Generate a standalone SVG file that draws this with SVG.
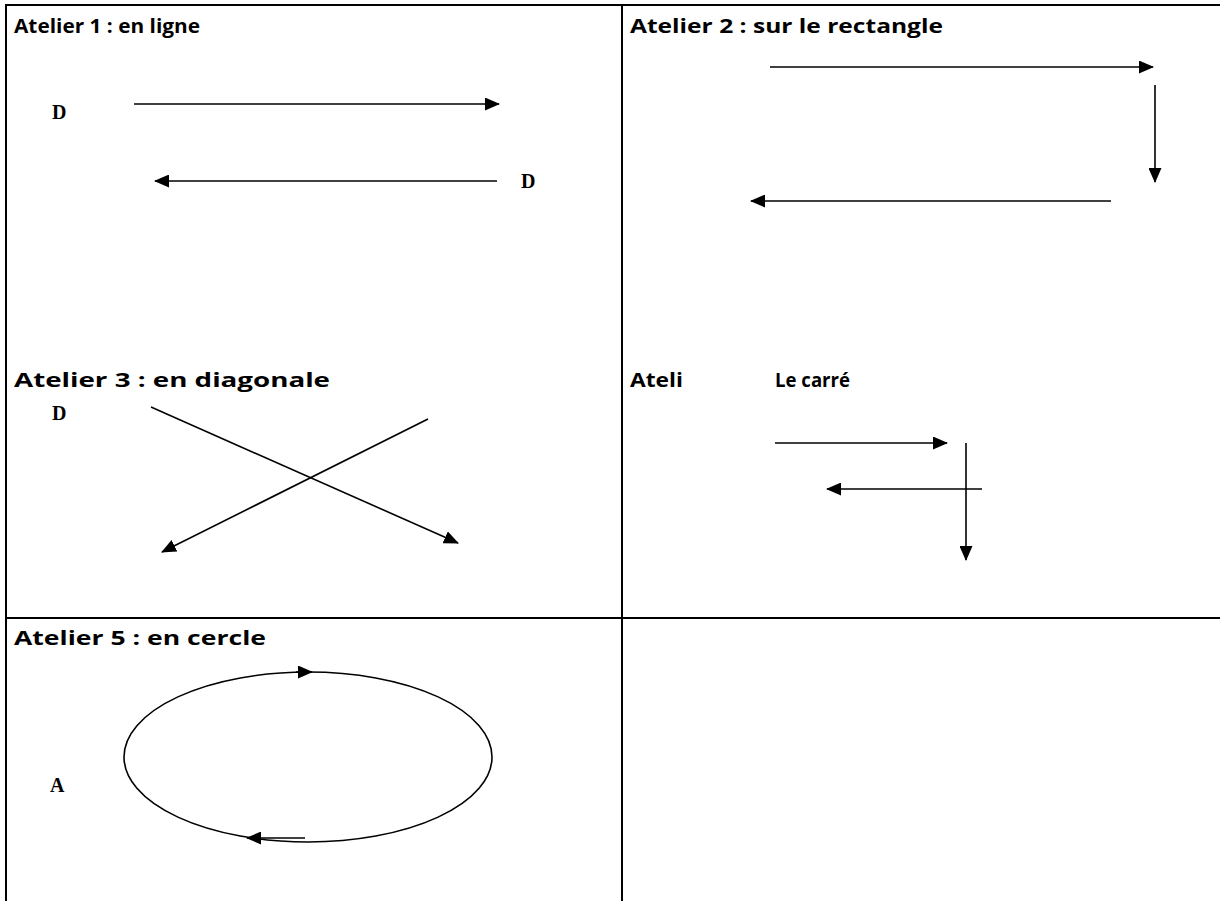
<svg xmlns="http://www.w3.org/2000/svg" width="1220" height="901" viewBox="0 0 1220 901">
<style>
.t{font-family:"Open Sans","Liberation Sans",Arial,sans-serif;font-weight:bold;font-size:20px;fill:#000}
.l{font-family:"Liberation Serif","Times New Roman",serif;font-weight:bold;font-size:20px;fill:#000}
.a{stroke:#000;stroke-width:1.6;fill:none;marker-end:url(#ah)}
.b{stroke:#000;stroke-width:2;fill:none}
</style>
<defs>
<marker id="ah" markerWidth="15" markerHeight="13" refX="14" refY="6.5" orient="auto" markerUnits="userSpaceOnUse">
<path d="M0,0 L15,6.5 L0,13 Z" fill="#000"/>
</marker>
</defs>
<rect width="1220" height="901" fill="#fff"/>
<g id="grid">
<line class="b" x1="5" y1="5" x2="1220" y2="5"/>
<line class="b" x1="6" y1="4" x2="6" y2="901"/>
<line class="b" x1="622" y1="5" x2="622" y2="901"/>
<line class="b" x1="5" y1="618" x2="1220" y2="618"/>
</g>
<g id="atelier1">
<text class="t" x="14" y="33" textLength="186" lengthAdjust="spacingAndGlyphs">Atelier 1 : en ligne</text>
<text class="l" x="52" y="119">D</text>
<text class="l" x="521" y="188">D</text>
</g>
<g id="atelier2">
<text class="t" x="630" y="33" textLength="313" lengthAdjust="spacingAndGlyphs">Atelier 2 : sur le rectangle</text>
</g>
<g id="atelier3">
<text class="t" x="14" y="387" textLength="316" lengthAdjust="spacingAndGlyphs">Atelier 3 : en diagonale</text>
<text class="l" x="52" y="420">D</text>
</g>
<g id="atelier4">
<text class="t" x="630" y="387" textLength="53" lengthAdjust="spacingAndGlyphs">Ateli</text>
<text class="t" x="775" y="387" textLength="75" lengthAdjust="spacingAndGlyphs">Le carré</text>
</g>
<g id="atelier5">
<text class="t" x="14" y="645" textLength="252" lengthAdjust="spacingAndGlyphs">Atelier 5 : en cercle</text>
<text class="l" x="50" y="792">A</text>
<ellipse cx="308" cy="757" rx="184" ry="85" fill="none" stroke="#000" stroke-width="1.6"/>
</g>
<g id="connectors">
<line class="a" x1="134" y1="104" x2="499" y2="104"/>
<line class="a" x1="497" y1="181" x2="155" y2="181"/>
<line class="a" x1="770" y1="67" x2="1153" y2="67"/>
<line class="a" x1="1155" y1="85" x2="1155" y2="182"/>
<line class="a" x1="1111" y1="201" x2="751" y2="201"/>
<line class="a" x1="151" y1="407" x2="458" y2="543"/>
<line class="a" x1="428" y1="419" x2="162" y2="552"/>
<line class="a" x1="775" y1="443" x2="947" y2="443"/>
<line class="a" x1="966" y1="443" x2="966" y2="560"/>
<line class="a" x1="982" y1="489" x2="827" y2="489"/>
<line class="a" x1="296" y1="672" x2="312" y2="672"/>
<line class="a" x1="305" y1="838" x2="247" y2="838"/>
</g>
</svg>
